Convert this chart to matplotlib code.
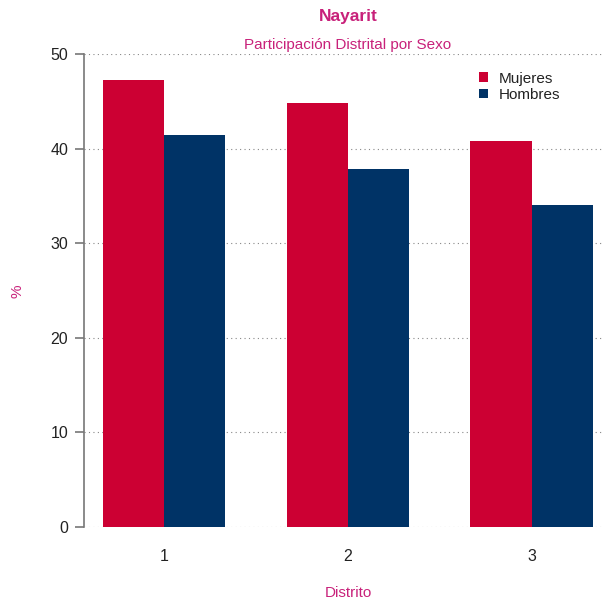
import numpy as np
import matplotlib.pyplot as plt

plt.rcParams['font.family'] = ['Liberation Sans', 'DejaVu Sans']

# datos
distritos = ['1', '2', '3']
mujeres = [47.2, 44.8, 40.8]
hombres = [41.4, 37.8, 34.0]
yticks = [0, 10, 20, 30, 40, 50]

col_muj = '#CC0033'
col_hom = '#003366'
rosa = '#C8217A'

fig = plt.figure(figsize=(6.02, 6.04), dpi=100)
ax = fig.add_axes([84/602, 77/604, 518/602, 473/604])

# estilo barplot de R: ancho 1, espacio 1 entre grupos
x = np.arange(len(distritos)) * 3 + 1
ax.bar(x, mujeres, width=1, align='edge', color=col_muj, label='Mujeres', zorder=3)
ax.bar(x + 1, hombres, width=1, align='edge', color=col_hom, label='Hombres', zorder=3)

ax.set_xlim(0.69, 9.15)
ax.set_ylim(0, 50)
ax.set_yticks(yticks)
ax.set_xticks(x + 1)
ax.set_xticklabels(distritos)

for y in yticks:
    ax.axhline(y, color='#888888', linestyle=(0, (1, 3)), linewidth=0.8, zorder=1)

for s in ['top', 'right', 'bottom']:
    ax.spines[s].set_visible(False)
ax.spines['left'].set_color('#777777')
ax.spines['left'].set_linewidth(1.2)
ax.tick_params(axis='y', length=6.5, width=1.2, color='#777777', pad=5,
               labelsize=11.5, labelcolor='#222222')
ax.tick_params(axis='x', length=0, pad=16, labelsize=11.5, labelcolor='#222222')

# titulos centrados sobre la region de las barras
cx = 348/602
fig.text(cx, 1 - 17/604, 'Nayarit', ha='center', va='center',
         fontsize=12.5, fontweight='bold', color=rosa)
fig.text(cx, 1 - 45/604, 'Participación Distrital por Sexo', ha='center', va='center',
         fontsize=11, color=rosa)
fig.text(cx, 1 - 593/604, 'Distrito', ha='center', va='center', fontsize=11, color=rosa)
fig.text(18/602, 1 - 291/604, '%', ha='center', va='center', rotation=90, fontsize=11, color=rosa)

ax.legend(loc='upper left', bbox_to_anchor=((471 - 84)/518, 1 - 10/473), frameon=False,
          fontsize=11, handlelength=0.6, handleheight=0.6, handletextpad=0.7,
          labelspacing=0.15, borderpad=0, labelcolor='#222222')

fig.savefig('out.png', dpi=100)
